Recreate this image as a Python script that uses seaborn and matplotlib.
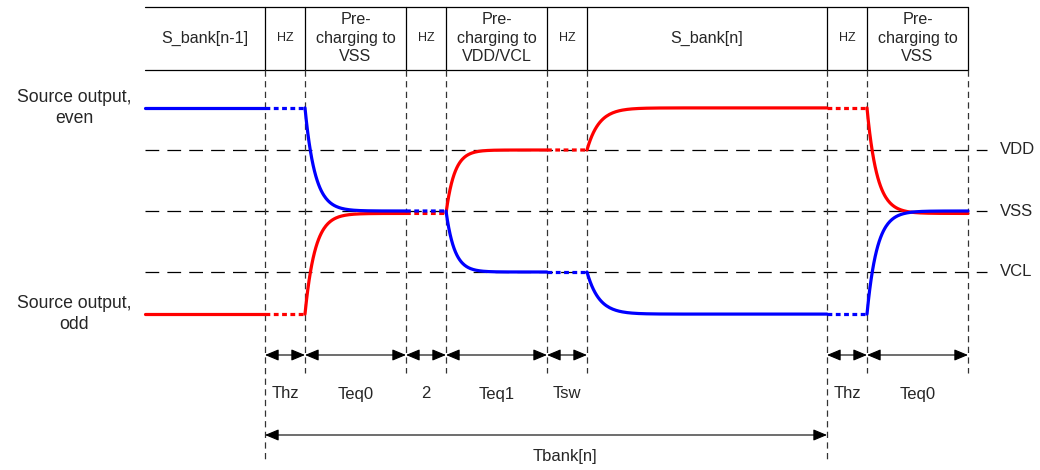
import numpy as np
import pandas as pd
import matplotlib.pyplot as plt
import seaborn as sns

sns.set_style('white')
plt.rcParams['font.family'] = ['Liberation Sans', 'DejaVu Sans']

# phase boundaries on the time axis
edges = [145, 265, 305, 406, 446, 547, 587, 827, 867, 968]
phase_kind = ['drive', 'hz', 'drive', 'hz', 'drive', 'hz', 'drive', 'hz', 'drive']
# level each output settles to in every phase (VDD=1, VSS=0, VCL=-1)
even_target = [1.69, 1.69, 0.0, 0.0, -1.0, -1.0, -1.69, -1.69, 0.0]
odd_target = [-1.69, -1.69, -0.04, -0.04, 1.0, 1.0, 1.69, 1.69, -0.04]
settle_tau = [1, 1, 10, 1, 8.5, 1, 12, 1, 10]

header_labels = ['S_bank[n-1]', 'HZ', 'Pre-\ncharging to\nVSS', 'HZ',
                 'Pre-\ncharging to\nVDD/VCL', 'HZ', 'S_bank[n]', 'HZ',
                 'Pre-\ncharging to\nVSS']
timing_labels = ['Thz', 'Teq0', '2', 'Teq1', 'Tsw', None, 'Thz', 'Teq0']
rail_names = ['VDD', 'VSS', 'VCL']
rail_values = [1.0, 0.0, -1.0]


def build_signal(name, targets):
    rows = []
    v = targets[0]
    for i, kind in enumerate(phase_kind):
        t0, t1 = edges[i], edges[i + 1]
        t = np.linspace(t0, t1, 150)
        vals = targets[i] + (v - targets[i]) * np.exp(-(t - t0) / settle_tau[i])
        rows.append(pd.DataFrame({'t': t, 'v': vals, 'signal': name,
                                  'kind': kind, 'seg': f'{name}{i}'}))
        v = vals[-1]
    return pd.concat(rows)


df = pd.concat([build_signal('even', even_target), build_signal('odd', odd_target)])

fig = plt.figure(figsize=(10.4, 4.7), dpi=100)
ax = fig.add_axes([0, 0, 1, 1])
ax.set_xlim(0, 1040)
ax.set_ylim((211 - 470) / 61, 211 / 61)
ax.axis('off')
xt = ax.get_xaxis_transform()


def fy(p):
    return 1 - p / 470


# rails
ax.hlines(rail_values, edges[0], 987, colors='black', lw=0.9, linestyles=(0, (11, 6.5)))
for name, val in zip(rail_names, rail_values):
    ax.text(1000, val, name, ha='left', va='center', fontsize=12)

# header table
ax.plot([edges[0], edges[-1]], [fy(7), fy(7)], transform=xt, color='black', lw=0.9)
ax.plot([edges[0], edges[-1]], [fy(70), fy(70)], transform=xt, color='black', lw=0.9)
for i, lab in enumerate(header_labels):
    cx = (edges[i] + edges[i + 1]) / 2
    fs = 9 if lab == 'HZ' else 11.6
    ax.text(cx, fy(38), lab, transform=xt, ha='center', va='center',
            fontsize=fs, linespacing=1.3)
for x in edges[1:]:
    ax.plot([x, x], [fy(7), fy(70)], transform=xt, color='black', lw=0.9)
    bottom = 460 if x in (edges[1], edges[7]) else 373
    ax.plot([x, x], [fy(70), fy(bottom)], transform=xt, color='#333333',
            lw=0.9, ls=(0, (5, 3.5)))

# signals
sns.lineplot(data=df, x='t', y='v', hue='signal', style='kind', units='seg',
             estimator=None, hue_order=['odd', 'even'],
             palette={'even': '#0000ff', 'odd': '#ff0000'},
             dashes={'drive': '', 'hz': (1.5, 1.1)}, linewidth=2.3,
             legend=False, ax=ax)
ax.set_xlabel('')
ax.set_ylabel('')

ax.text(74, even_target[0], 'Source output,\neven', ha='center', va='center',
        fontsize=12.7, linespacing=1.25)
ax.text(74, odd_target[0], 'Source output,\nodd', ha='center', va='center',
        fontsize=12.7, linespacing=1.25)

# timing arrows
arrow = dict(arrowstyle='<|-|>,head_length=0.6,head_width=0.25', color='black',
             lw=0.8, shrinkA=0, shrinkB=0, mutation_scale=14)
for i, lab in enumerate(timing_labels):
    if lab is None:
        continue
    x0, x1 = edges[i + 1], edges[i + 2]
    ax.annotate('', xy=(x1, fy(355)), xycoords=xt, xytext=(x0, fy(355)),
                textcoords=xt, arrowprops=arrow)
    ax.text((x0 + x1) / 2, fy(394), lab, transform=xt, ha='center', va='center',
            fontsize=12)

ax.annotate('', xy=(edges[7], fy(435)), xycoords=xt, xytext=(edges[1], fy(435)),
            textcoords=xt, arrowprops=arrow)
ax.text(565, fy(456), 'Tbank[n]', transform=xt, ha='center', va='center', fontsize=12)

fig.savefig('out.png', dpi=100)
